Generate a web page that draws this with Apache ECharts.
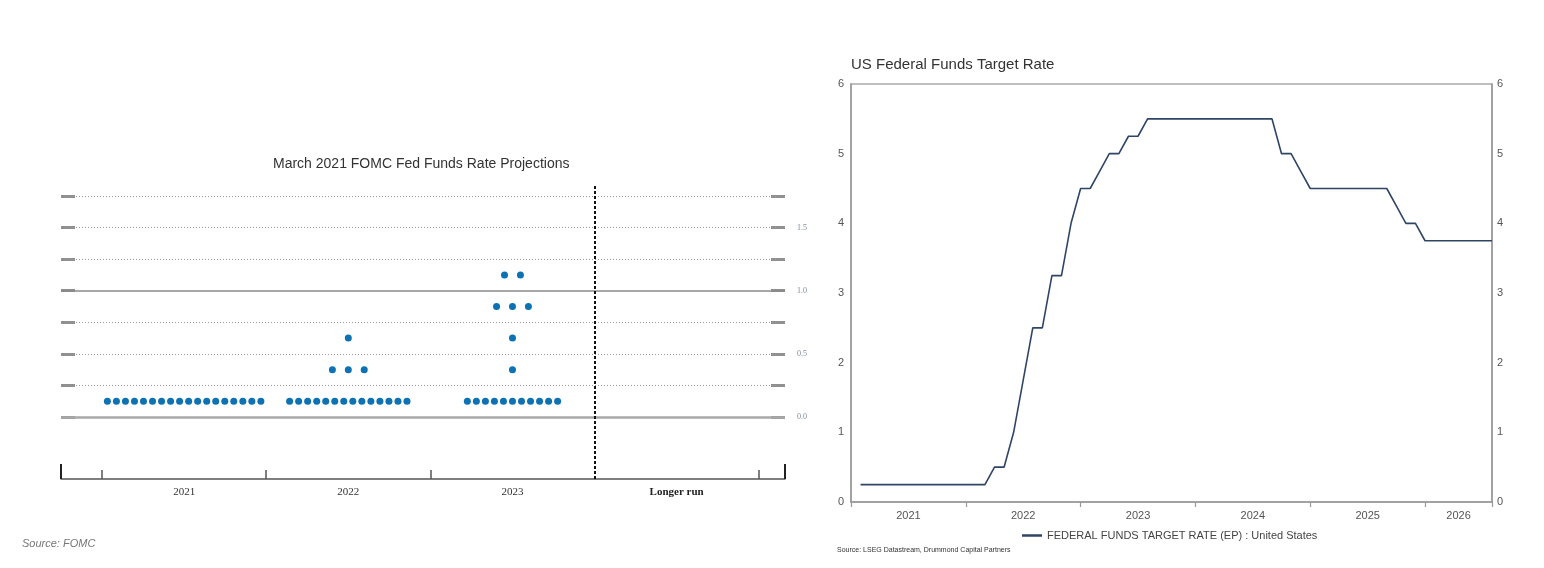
<!DOCTYPE html>
<html><head><meta charset="utf-8">
<script src="https://cdn.jsdelivr.net/npm/echarts@6/dist/echarts.min.js"></script>
<style>html,body{margin:0;padding:0;background:#fff}#c{width:1544px;height:568px}</style>
</head><body><div id="c"></div>
<script>
// ---------- Left chart: March 2021 FOMC dot plot ----------
const fomcCategories = ['2021', '2022', '2023', 'Longer run'];
const dotLevels = [0.125, 0.375, 0.625, 0.875, 1.125];
// number of participants at each level (same order as dotLevels)
const dots2021 = [18, 0, 0, 0, 0];
const dots2022 = [14, 3, 1, 0, 0];
const dots2023 = [11, 1, 1, 3, 2];
const dotsLongerRun = [0, 0, 0, 0, 0]; // longer-run dots lie above the visible range
const fomcGridLevels = [0, 0.25, 0.5, 0.75, 1, 1.25, 1.5, 1.75];
const fomcSolidLevels = [0, 1];
const fomcTickLabels = [0, 0.5, 1, 1.5];
const fomcBandTicks = [0, 1, 2, 4];
const fomcDivider = 3;

// ---------- Right chart: US Federal Funds Target Rate ----------
const fedMonths = [
 '2021-01','2021-02','2021-03','2021-04','2021-05','2021-06','2021-07','2021-08','2021-09','2021-10','2021-11','2021-12',
 '2022-01','2022-02','2022-03','2022-04','2022-05','2022-06','2022-07','2022-08','2022-09','2022-10','2022-11','2022-12',
 '2023-01','2023-02','2023-03','2023-04','2023-05','2023-06','2023-07','2023-08','2023-09','2023-10','2023-11','2023-12',
 '2024-01','2024-02','2024-03','2024-04','2024-05','2024-06','2024-07','2024-08','2024-09','2024-10','2024-11','2024-12',
 '2025-01','2025-02','2025-03','2025-04','2025-05','2025-06','2025-07','2025-08','2025-09','2025-10','2025-11','2025-12',
 '2026-01','2026-02','2026-03','2026-04','2026-05','2026-06','2026-07'
];
const fedRate = [
 0.25,0.25,0.25,0.25,0.25,0.25,0.25,0.25,0.25,0.25,0.25,0.25,
 0.25,0.25,0.5,0.5,1.0,1.75,2.5,2.5,3.25,3.25,4.0,4.5,
 4.5,4.75,5.0,5.0,5.25,5.25,5.5,5.5,5.5,5.5,5.5,5.5,
 5.5,5.5,5.5,5.5,5.5,5.5,5.5,5.5,5.0,5.0,4.75,4.5,
 4.5,4.5,4.5,4.5,4.5,4.5,4.5,4.5,4.25,4.0,4.0,3.75,
 3.75,3.75,3.75,3.75,3.75,3.75,3.75
];
const fedYears = [2021, 2022, 2023, 2024, 2025, 2026];
const fedSeriesName = 'FEDERAL FUNDS TARGET RATE (EP) : United States';

// ---------- build ----------
function dotPoints(counts, catIndex) {
  const pts = [];
  counts.forEach((n, li) => {
    const sp = n <= 3 ? 0.097 : 0.055;
    for (let j = 0; j < n; j++) {
      pts.push([catIndex + 0.5 + (j - (n - 1) / 2) * sp, dotLevels[li]]);
    }
  });
  return pts;
}
const dotData = [].concat(
  dotPoints(dots2021, 0), dotPoints(dots2022, 1),
  dotPoints(dots2023, 2), dotPoints(dotsLongerRun, 3));

const monthToX = m => { const [y, mo] = m.split('-').map(Number); return y + mo / 12; };
const fedData = fedMonths.map((m, i) => [monthToX(m), fedRate[i]]);
const fedMin = fedYears[0];
const fedMax = monthToX(fedMonths[fedMonths.length - 1]);
const fedLabelPos = fedYears.map(y => y === fedYears[fedYears.length - 1] ? (y + fedMax) / 2 : y + 0.5);

const gridLineData = fomcGridLevels.filter(v => fomcSolidLevels.indexOf(v) < 0).map(v => ({
  yAxis: v, lineStyle: { type: [1, 2], color: '#9a9a9a', width: 1 }
})).concat(fomcSolidLevels.map(v => ({
  yAxis: v, lineStyle: { type: 'solid', color: v === 0 ? '#a8a8a8' : '#8a8a8a', width: v === 0 ? 2.5 : 1.5 }
}))).concat([{ xAxis: fomcDivider, lineStyle: { type: [3, 2], color: '#111', width: 2 } }]);

const SERIF = '"Liberation Serif","DejaVu Serif",serif';
const SANS = '"Liberation Sans",Arial,sans-serif';

const chart = echarts.init(document.getElementById('c'));
chart.setOption({
  animation: false,
  backgroundColor: '#fff',
  title: [
    { text: 'March 2021 FOMC Fed Funds Rate Projections', left: 268, top: 152,
      textStyle: { fontFamily: SANS, fontSize: 14, fontWeight: 'normal', color: '#333' } },
    { text: 'Source: FOMC', left: 17, top: 533,
      textStyle: { fontFamily: SANS, fontSize: 11, fontStyle: 'italic', fontWeight: 'normal', color: '#777' } },
    { text: 'US Federal Funds Target Rate', left: 846, top: 52,
      textStyle: { fontFamily: SANS, fontSize: 15, fontWeight: 'normal', color: '#333' } },
    { text: 'Source: LSEG Datastream, Drummond Capital Partners', left: 832, top: 542,
      textStyle: { fontFamily: SANS, fontSize: 7, fontWeight: 'normal', color: '#333' } }
  ],
  legend: {
    data: [fedSeriesName], left: 1017, top: 525, icon: 'rect', itemWidth: 20, itemHeight: 2.5,
    textStyle: { fontFamily: SANS, fontSize: 11, color: '#444' }
  },
  grid: [
    { left: 61, top: 185, width: 724, height: 294 },
    { left: 851, top: 84, width: 641, height: 418, show: true, borderColor: '#aaa', borderWidth: 1.5 }
  ],
  xAxis: [
    { type: 'value', gridIndex: 0, min: -0.25, max: 4.16, position: 'bottom',
      axisLine: { onZero: false, lineStyle: { color: '#555', width: 1.5 } },
      axisTick: { inside: true, length: 9, customValues: fomcBandTicks, lineStyle: { color: '#555', width: 1.5 } },
      axisLabel: { customValues: fomcCategories.map((c, i) => i + 0.5), margin: 8,
        formatter: v => { const c = fomcCategories[Math.floor(v)]; return c === 'Longer run' ? '{b|' + c + '}' : c; },
        fontFamily: SERIF, fontSize: 11, color: '#333',
        rich: { b: { fontFamily: SERIF, fontSize: 11, fontWeight: 'bold', color: '#222' } } },
      splitLine: { show: false } },
    { type: 'value', gridIndex: 0, min: -0.25, max: 4.16, position: 'bottom',
      axisLine: { show: false, onZero: false },
      axisTick: { inside: true, length: 15, customValues: [-0.25, 4.16], lineStyle: { color: '#222', width: 2 } },
      axisLabel: { show: false }, splitLine: { show: false } },
    { type: 'value', gridIndex: 1, min: fedMin, max: fedMax,
      axisLine: { onZero: false, lineStyle: { color: '#999', width: 1.5 } },
      axisTick: { length: 5, customValues: fedYears.concat([fedMax]), lineStyle: { color: '#999', width: 1.2 } },
      axisLabel: { customValues: fedLabelPos, formatter: v => String(Math.floor(v)), margin: 8,
        fontFamily: SANS, fontSize: 11, color: '#555' },
      splitLine: { show: false } }
  ],
  yAxis: [
    { type: 'value', gridIndex: 0, min: -0.491, max: 1.837, position: 'left',
      axisLine: { show: false, onZero: false },
      axisTick: { inside: true, length: 14, customValues: fomcGridLevels, lineStyle: { color: '#8f8f8f', width: 3 } },
      axisLabel: { show: false }, splitLine: { show: false } },
    { type: 'value', gridIndex: 0, min: -0.491, max: 1.837, position: 'right',
      axisLine: { show: false, onZero: false },
      axisTick: { inside: true, length: 14, customValues: fomcGridLevels, lineStyle: { color: '#8f8f8f', width: 3 } },
      axisLabel: { customValues: fomcTickLabels, formatter: v => v.toFixed(1), margin: 12,
        fontFamily: SERIF, fontSize: 8, color: '#7a8898' },
      splitLine: { show: false } },
    { type: 'value', gridIndex: 1, min: 0, max: 6, interval: 1, position: 'left',
      axisLine: { show: true, onZero: false, lineStyle: { color: '#999', width: 1.5 } },
      axisTick: { show: false },
      axisLabel: { margin: 7, fontFamily: SANS, fontSize: 11, color: '#555' },
      splitLine: { show: false } },
    { type: 'value', gridIndex: 1, min: 0, max: 6, interval: 1, position: 'right',
      axisLine: { show: true, onZero: false, lineStyle: { color: '#999', width: 1.5 } },
      axisTick: { show: false },
      axisLabel: { margin: 5, fontFamily: SANS, fontSize: 11, color: '#555' },
      splitLine: { show: false } }
  ],
  series: [
    { type: 'scatter', name: 'gridlines', xAxisIndex: 0, yAxisIndex: 0, data: [], z: 1, silent: true,
      markLine: { silent: true, symbol: ['none', 'none'], label: { show: false }, animation: false, data: gridLineData } },
    { type: 'scatter', name: 'FOMC participants', xAxisIndex: 0, yAxisIndex: 0, data: dotData, z: 5,
      symbol: 'circle', symbolSize: 7, itemStyle: { color: '#0d72b3', opacity: 1 } },
    { type: 'line', name: fedSeriesName, xAxisIndex: 2, yAxisIndex: 2, data: fedData,
      symbol: 'none', lineStyle: { color: '#2f4566', width: 1.6 }, itemStyle: { color: '#2f4566' } }
  ]
});
</script></body></html>
